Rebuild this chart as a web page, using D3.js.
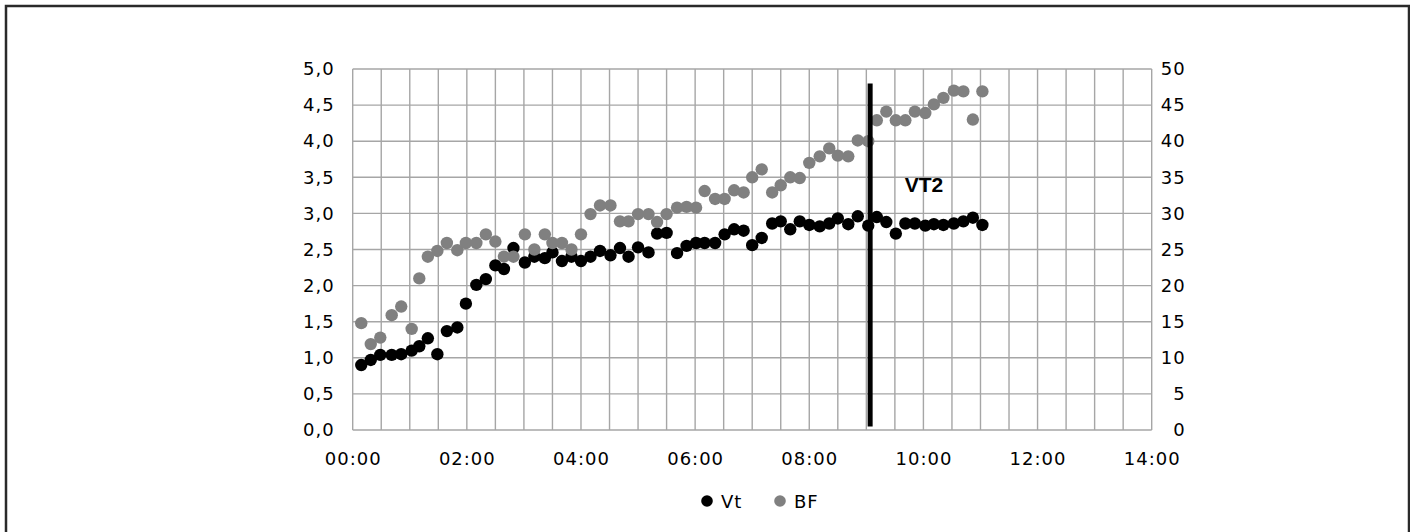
<!DOCTYPE html>
<html>
<head>
<meta charset="utf-8">
<script src="https://cdn.jsdelivr.net/npm/d3@7"></script>
<style>
  body { margin: 0; background: #fff; }
  svg text { font-family: "DejaVu Sans", sans-serif; font-size: 18px; letter-spacing: 1px; fill: #000; }
</style>
</head>
<body>
<svg id="chart" width="1410" height="532"></svg>
<script>
// temps en secondes (un point toutes les ~10 s)
const temps = [9, 19, 29, 41, 51, 62, 70, 79, 89, 99,
  110, 119, 130, 140, 150, 159, 169, 181, 191, 202,
  210, 220, 230, 240, 250, 260, 271, 281, 290, 300,
  311, 320, 330, 341, 351, 361, 370, 381, 391, 401,
  411, 420, 430, 441, 450, 460, 470, 480, 491, 501,
  510, 521, 531, 542, 551, 561, 571, 581, 591, 602,
  611, 621, 632, 642, 652, 662]

// Vt (axe gauche)
const vt = [0.90, 0.97, 1.04, 1.04, 1.05, 1.10, 1.16, 1.27, 1.05, 1.37,
  1.42, 1.75, 2.01, 2.09, 2.28, 2.23, 2.52, 2.32, 2.40, 2.38,
  2.46, 2.34, 2.40, 2.34, 2.40, 2.48, 2.42, 2.52, 2.40, 2.53,
  2.46, 2.72, 2.73, 2.45, 2.55, 2.59, 2.59, 2.59, 2.71, 2.78,
  2.76, 2.56, 2.66, 2.86, 2.89, 2.78, 2.89, 2.84, 2.82, 2.86,
  2.93, 2.85, 2.96, 2.83, 2.95, 2.88, 2.72, 2.86, 2.86, 2.83,
  2.85, 2.84, 2.86, 2.89, 2.94, 2.84]

// BF (axe droit)
const bf = [14.8, 11.9, 12.8, 15.9, 17.1, 14.0, 21.0, 24.0, 24.8, 25.9,
  24.9, 25.9, 25.9, 27.1, 26.1, 24.0, 24.0, 27.1, 25.0, 27.1,
  25.9, 25.9, 25.0, 27.1, 29.9, 31.1, 31.1, 28.9, 28.9, 29.9,
  29.9, 28.8, 29.9, 30.8, 30.9, 30.8, 33.1, 32.0, 32.0, 33.2,
  32.9, 35.0, 36.1, 32.9, 33.9, 35.0, 34.9, 37.0, 37.9, 39.0,
  38.0, 37.9, 40.1, 40.0, 42.9, 44.1, 42.9, 42.9, 44.1, 43.9,
  45.1, 46.0, 47.0, 46.9, 43.0, 46.9]

const xTicks = [0, 120, 240, 360, 480, 600, 720, 840]
const yLeftTicks = [0, 0.5, 1, 1.5, 2, 2.5, 3, 3.5, 4, 4.5, 5]
const yRightTicks = [0, 5, 10, 15, 20, 25, 30, 35, 40, 45, 50]

const vt2 = { t: 544, from: 0.05, to: 4.8, label: "VT2" }

const series = [
  { name: "Vt", color: "#000000" },
  { name: "BF", color: "#808080" }
]

const svg = d3.select("#chart")
const plotLeft = 352.7, plotRight = 1151.7, plotTop = 69, plotBottom = 430

const x = d3.scaleLinear().domain([0, 840]).range([plotLeft, plotRight])
const yL = d3.scaleLinear().domain([0, 5]).range([plotBottom, plotTop])
const yR = d3.scaleLinear().domain([0, 50]).range([plotBottom, plotTop])

const fmtTime = s => d3.format("02d")(Math.floor(s / 60)) + ":" + d3.format("02d")(s % 60)
const fmtL = v => v.toFixed(1).replace(".", ",")

// cadre extérieur
svg.append("rect")
  .attr("x", 6).attr("y", 6).attr("width", 1403).attr("height", 600)
  .attr("fill", "none").attr("stroke", "#2a2a2a").attr("stroke-width", 2.5)

// grille : verticales toutes les 30 s, horizontales tous les 0,5
const grid = svg.append("g").attr("stroke", "#a6a6a6").attr("stroke-width", 1.4)
grid.selectAll("line.v").data(d3.range(0, 841, 30)).enter().append("line")
  .attr("x1", d => x(d)).attr("x2", d => x(d)).attr("y1", plotTop).attr("y2", plotBottom)
grid.selectAll("line.h").data(yLeftTicks).enter().append("line")
  .attr("x1", plotLeft).attr("x2", plotRight).attr("y1", d => yL(d)).attr("y2", d => yL(d))

// axes (étiquettes seules)
const axL = svg.append("g").attr("transform", `translate(${plotLeft},0)`)
  .call(d3.axisLeft(yL).tickValues(yLeftTicks).tickFormat(fmtL).tickSize(0).tickPadding(18))
const axR = svg.append("g").attr("transform", `translate(${plotRight},0)`)
  .call(d3.axisRight(yR).tickValues(yRightTicks).tickSize(0).tickPadding(11))
axR.selectAll("text").attr("text-anchor", "end").attr("dx", 23)
const axB = svg.append("g").attr("transform", `translate(0,${plotBottom})`)
  .call(d3.axisBottom(x).tickValues(xTicks).tickFormat(fmtTime).tickSize(0).tickPadding(22))
;[axL, axR, axB].forEach(a => {
  a.select(".domain").remove()
  a.selectAll("text").attr("font-size", 18).attr("font-family", "DejaVu Sans, sans-serif")
})

// points
const pts = temps.map((t, i) => ({ t, vt: vt[i], bf: bf[i] }))
svg.append("g").selectAll("circle").data(pts).enter().append("circle")
  .attr("cx", d => x(d.t)).attr("cy", d => yL(d.vt)).attr("r", 6.2)
  .attr("fill", series[0].color)
svg.append("g").selectAll("circle").data(pts).enter().append("circle")
  .attr("cx", d => x(d.t)).attr("cy", d => yR(d.bf)).attr("r", 6.2)
  .attr("fill", series[1].color)

// ligne VT2
svg.append("line")
  .attr("x1", x(vt2.t)).attr("x2", x(vt2.t))
  .attr("y1", yL(vt2.from)).attr("y2", yL(vt2.to))
  .attr("stroke", "#000").attr("stroke-width", 5)
svg.append("text")
  .attr("x", 924).attr("y", 192).attr("text-anchor", "middle")
  .style("font-family", "Liberation Sans, Arial, sans-serif").style("font-size", "21px")
  .style("font-weight", "bold").style("letter-spacing", "0px")
  .text(vt2.label)

// légende
const leg = svg.append("g")
const legPos = [707, 780]
series.forEach((s, i) => {
  leg.append("circle").attr("cx", legPos[i]).attr("cy", 501).attr("r", 5.8).attr("fill", s.color)
  leg.append("text").attr("x", legPos[i] + 14).attr("y", 507.5).text(s.name)
})
</script>
</body>
</html>
